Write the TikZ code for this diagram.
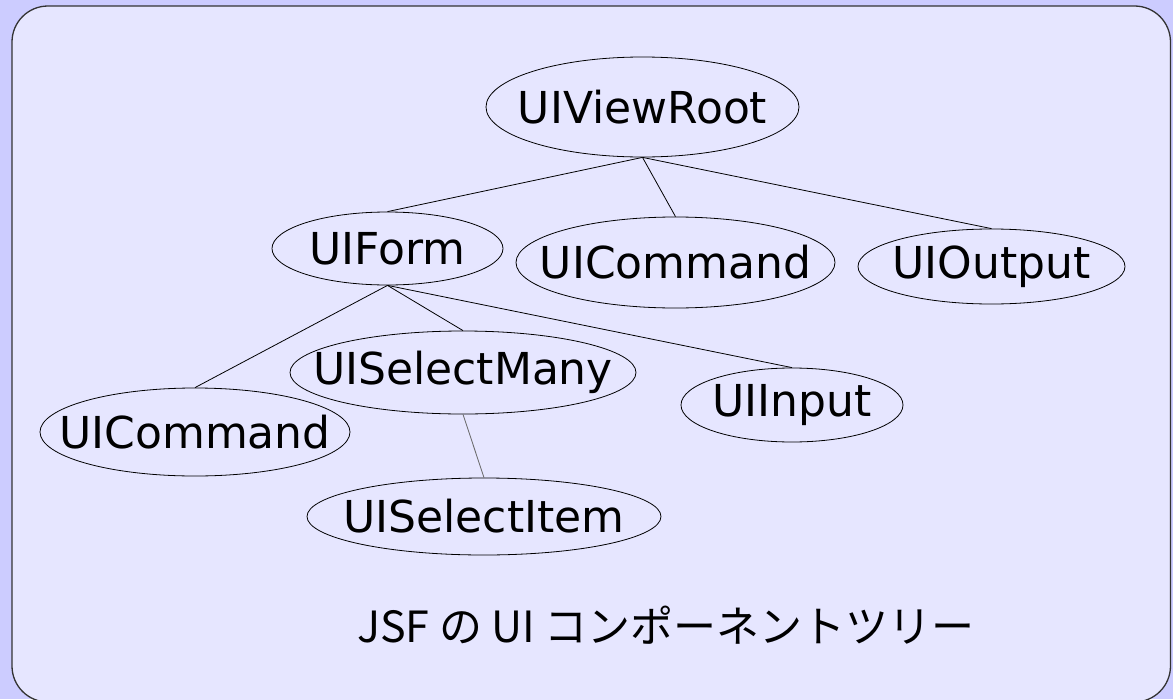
\documentclass[tikz,border=0pt]{standalone}
\usepackage{fontspec}
\setmainfont{DejaVu Sans}
\newfontfamily\jpfont{Noto Sans CJK JP}
\usetikzlibrary{shapes.geometric}
\definecolor{outerbg}{HTML}{CCCCFF}
\definecolor{innerbg}{HTML}{E6E6FF}
\definecolor{framecol}{HTML}{333333}
\definecolor{graylink}{HTML}{666666}
\tikzset{
  el/.style={ellipse, draw=black, line width=0.8pt, inner sep=0pt},
  lab/.style={font=\fontsize{44}{48}\selectfont, inner sep=0pt},
  link/.style={draw=black, line width=0.8pt},
  glink/.style={draw=graylink, line width=0.8pt},
}
\begin{document}
\begin{tikzpicture}[x=1pt,y=-1pt]
\fill[outerbg] (0,0) rectangle (1173,699);
\useasboundingbox (0,0) rectangle (1173,699);
\draw[framecol, fill=innerbg, line width=1.3pt, rounded corners=36pt] (12,6) rectangle (1170.5,702);

\node[el, minimum width=313pt, minimum height=100pt, label={[lab]center:UIViewRoot}] (root) at (642.5,107) {};
\node[el, minimum width=231pt, minimum height=73pt, label={[lab]center:UIForm}] (form) at (387.5,248.5) {};
\node[el, minimum width=319pt, minimum height=91pt, label={[lab]center:UICommand}] (cmdb) at (675.5,262.5) {};
\node[el, minimum width=267pt, minimum height=75pt, label={[lab]center:UIOutput}] (out) at (991.5,266.5) {};
\node[el, minimum width=346pt, minimum height=83pt, label={[lab]center:UISelectMany}] (sel) at (463,372.5) {};
\node[el, minimum width=310pt, minimum height=88pt, label={[lab]center:UICommand}] (cmda) at (195,432) {};
\node[el, minimum width=222pt, minimum height=74pt, label={[lab]center:UIInput}] (inp) at (792,405) {};
\node[el, minimum width=354pt, minimum height=77pt, label={[lab]center:UISelectItem}] (item) at (484,516.5) {};

\draw[link] (root.south) -- (form.north);
\draw[link] (root.south) -- (cmdb.north);
\draw[link] (root.south) -- (out.north);
\draw[link] (form.south) -- (cmda.north);
\draw[link] (form.south) -- (sel.north);
\draw[link] (form.south) -- (inp.north);
\draw[glink] (sel.south) -- (item.north);

\node[font=\jpfont\fontsize{43}{48}\selectfont, inner sep=0pt] (cap) at (666,625) {JSF の UI コンポーネントツリー};
\end{tikzpicture}
\end{document}
